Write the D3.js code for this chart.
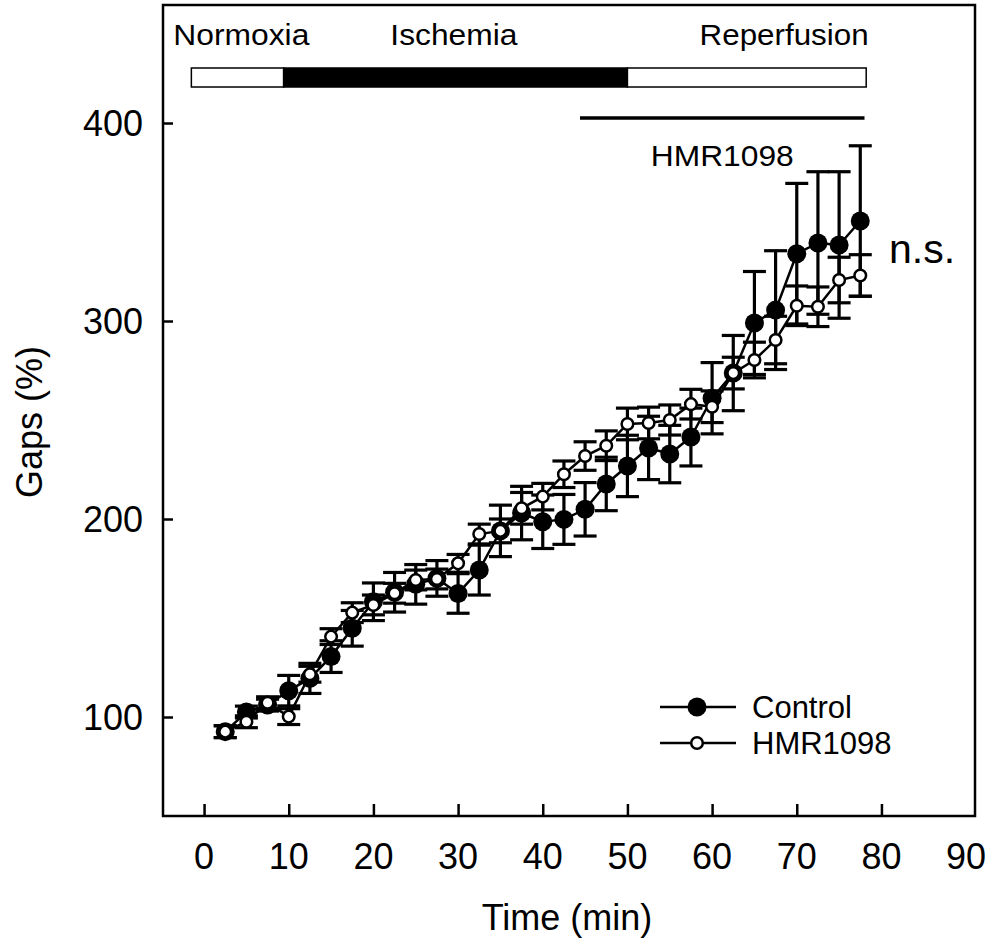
<!DOCTYPE html>
<html>
<head>
<meta charset="utf-8">
<script src="https://cdn.jsdelivr.net/npm/d3@7"></script>
<style>
  html, body { margin: 0; padding: 0; background: #fff; }
  text { font-family: "Liberation Sans", Arial, Helvetica, sans-serif; fill: #000; }
</style>
</head>
<body>
<svg id="chart" width="996" height="942"></svg>
<script>
// ---- data ----
const time = [2.5, 5, 7.5, 10, 12.5, 15, 17.5, 20, 22.5, 25, 27.5, 30, 32.5, 35, 37.5, 40,
              42.5, 45, 47.5, 50, 52.5, 55, 57.5, 60, 62.5, 65, 67.5, 70, 72.5, 75, 77.5];
const control = [92.6, 102.5, 106, 113.3, 119.5, 130.5, 144.8, 158.2, 163, 167, 170, 162.4, 174.2, 194, 203, 198.6,
                 199.8, 204.9, 217.7, 226.8, 235.9, 232.8, 241.4, 261, 273.7, 299, 305.5, 334, 339.4, 338.4, 350.5];
const controlErr = [3, 3, 3, 7.7, 7.6, 8, 9, 9.5, 10, 10, 9, 10, 12.6, 13, 13.5, 13.5,
                    12.6, 13.5, 13.5, 15.5, 16, 14.5, 14.6, 18, 19, 26, 30, 35.5, 36, 37, 38];
const hmr = [92.6, 97.6, 107.2, 100.2, 121.6, 140.6, 152.7, 156.6, 162.5, 169.2, 169.7, 177.6, 192.4, 194, 205.4, 211.3,
             222.6, 231.8, 237, 248, 248.5, 250, 258, 256.7, 273.7, 280.3, 290.4, 307.7, 307.2, 320.7, 323];
const hmrErr = [3, 3, 3, 4, 4, 4, 5, 5, 5, 5, 5, 4.5, 5, 6, 8, 6.7,
                6.7, 7.2, 7.5, 8, 8, 7.6, 7.5, 8, 8, 9, 12, 10, 10, 11.5, 10.5];

const xTicks = [0, 10, 20, 30, 40, 50, 60, 70, 80];
const xTickLabels = [0, 10, 20, 30, 40, 50, 60, 70, 80, 90];
const yTicks = [100, 200, 300, 400];

// protocol phases (time in min)
const phaseNames = ["Normoxia", "Ischemia", "Reperfusion"];
const phaseStart = [-1.5, 9.4, 50];
const phaseEnd = [9.4, 50, 78.2];
const phaseFill = ["#fff", "#000", "#fff"];
const phaseLabelX = [4.4, 29.5, 68.5];
const drugStart = 44.4, drugEnd = 78.0, drugLabel = "HMR1098";
const seriesNames = ["Control", "HMR1098"];

// ---- scales ----
const svg = d3.select("#chart");
const x = d3.scaleLinear().domain([-4.85, 91.05]).range([163, 975]);
const y = d3.scaleLinear().domain([50, 459.6]).range([816, 5]);

const [xl, xr] = x.range();
const [yb, yt] = y.range();

// frame
svg.append("rect").attr("x", xl).attr("y", yt).attr("width", xr - xl).attr("height", yb - yt)
  .attr("fill", "none").attr("stroke", "#000").attr("stroke-width", 2.5);

// x axis ticks (inward) + labels
const xAxis = d3.axisBottom(x).tickValues(xTicks).tickSize(-12).tickFormat("");
svg.append("g").attr("transform", `translate(0,${yb})`).call(xAxis)
  .call(g => g.select(".domain").remove())
  .call(g => g.selectAll("line").attr("stroke", "#000").attr("stroke-width", 2.5));
svg.append("g").selectAll("text").data(xTickLabels).join("text")
  .attr("x", d => x(d)).attr("y", 869).attr("text-anchor", "middle")
  .attr("font-size", 36).text(d => d);

// y axis ticks (inward) + labels
const yAxis = d3.axisLeft(y).tickValues(yTicks).tickSize(-10).tickFormat("");
svg.append("g").attr("transform", `translate(${xl},0)`).call(yAxis)
  .call(g => g.select(".domain").remove())
  .call(g => g.selectAll("line").attr("stroke", "#000").attr("stroke-width", 2.5));
svg.append("g").selectAll("text").data(yTicks).join("text")
  .attr("x", 143).attr("y", d => y(d) + 13).attr("text-anchor", "end")
  .attr("font-size", 36).text(d => d);

// axis titles
svg.append("text").attr("x", 567).attr("y", 930).attr("text-anchor", "middle")
  .attr("font-size", 36).text("Time (min)");
svg.append("text").attr("transform", "translate(42,422) rotate(-90)").attr("text-anchor", "middle")
  .attr("font-size", 36).text("Gaps (%)");

// phase bar
const barY = 68, barH = 19;
svg.append("g").selectAll("rect").data(phaseStart).join("rect")
  .attr("x", (d) => x(d)).attr("y", barY)
  .attr("width", (d, i) => x(phaseEnd[i]) - x(d)).attr("height", barH)
  .attr("fill", (d, i) => phaseFill[i]).attr("stroke", "#000").attr("stroke-width", 1.5);
svg.append("g").selectAll("text").data(phaseNames).join("text")
  .attr("x", (d, i) => x(phaseLabelX[i])).attr("y", 45).attr("text-anchor", "middle")
  .attr("font-size", 30).attr("textLength", (d, i) => [136, 127, 169][i])
  .attr("lengthAdjust", "spacingAndGlyphs").text(d => d);

// drug line
svg.append("line").attr("x1", x(drugStart)).attr("x2", x(drugEnd)).attr("y1", 118).attr("y2", 118)
  .attr("stroke", "#000").attr("stroke-width", 3.5);
svg.append("text").attr("x", x((drugStart + drugEnd) / 2)).attr("y", 166).attr("text-anchor", "middle")
  .attr("font-size", 30).attr("textLength", 143).attr("lengthAdjust", "spacingAndGlyphs").text(drugLabel);

// series drawing
function drawErr(vals, errs) {
  const g = svg.append("g").attr("stroke", "#000").attr("stroke-width", 3.2);
  time.forEach((t, i) => {
    const cx = x(t), y1 = y(vals[i] + errs[i]), y2 = y(vals[i] - errs[i]);
    g.append("line").attr("x1", cx).attr("x2", cx).attr("y1", y1).attr("y2", y2);
    g.append("line").attr("x1", cx - 11.5).attr("x2", cx + 11.5).attr("y1", y1).attr("y2", y1);
    g.append("line").attr("x1", cx - 11.5).attr("x2", cx + 11.5).attr("y1", y2).attr("y2", y2);
  });
}
function drawLine(vals) {
  svg.append("path").datum(vals)
    .attr("d", d3.line().x((d, i) => x(time[i])).y(d => y(d)))
    .attr("fill", "none").attr("stroke", "#000").attr("stroke-width", 2.5);
}

drawErr(control, controlErr);
drawLine(control);
svg.append("g").selectAll("circle").data(control).join("circle")
  .attr("cx", (d, i) => x(time[i])).attr("cy", d => y(d)).attr("r", 9.5).attr("fill", "#000");

drawErr(hmr, hmrErr);
drawLine(hmr);
svg.append("g").selectAll("circle").data(hmr).join("circle")
  .attr("cx", (d, i) => x(time[i])).attr("cy", d => y(d)).attr("r", 5.8)
  .attr("fill", "#fff").attr("stroke", "#000").attr("stroke-width", 2.5);

// n.s.
svg.append("text").attr("x", 889).attr("y", 263).attr("font-size", 41).text("n.s.");

// legend
const legY = [707, 743];
const lg = svg.append("g");
lg.selectAll("line").data(seriesNames).join("line")
  .attr("x1", 660).attr("x2", 736).attr("y1", (d, i) => legY[i]).attr("y2", (d, i) => legY[i])
  .attr("stroke", "#000").attr("stroke-width", 2.5);
lg.append("circle").attr("cx", 697).attr("cy", legY[0]).attr("r", 9.5).attr("fill", "#000");
lg.append("circle").attr("cx", 697).attr("cy", legY[1]).attr("r", 5.8).attr("fill", "#fff")
  .attr("stroke", "#000").attr("stroke-width", 2.5);
lg.selectAll("text").data(seriesNames).join("text")
  .attr("x", 752).attr("y", (d, i) => legY[i] + 11).attr("font-size", 31).text(d => d);
</script>
</body>
</html>
